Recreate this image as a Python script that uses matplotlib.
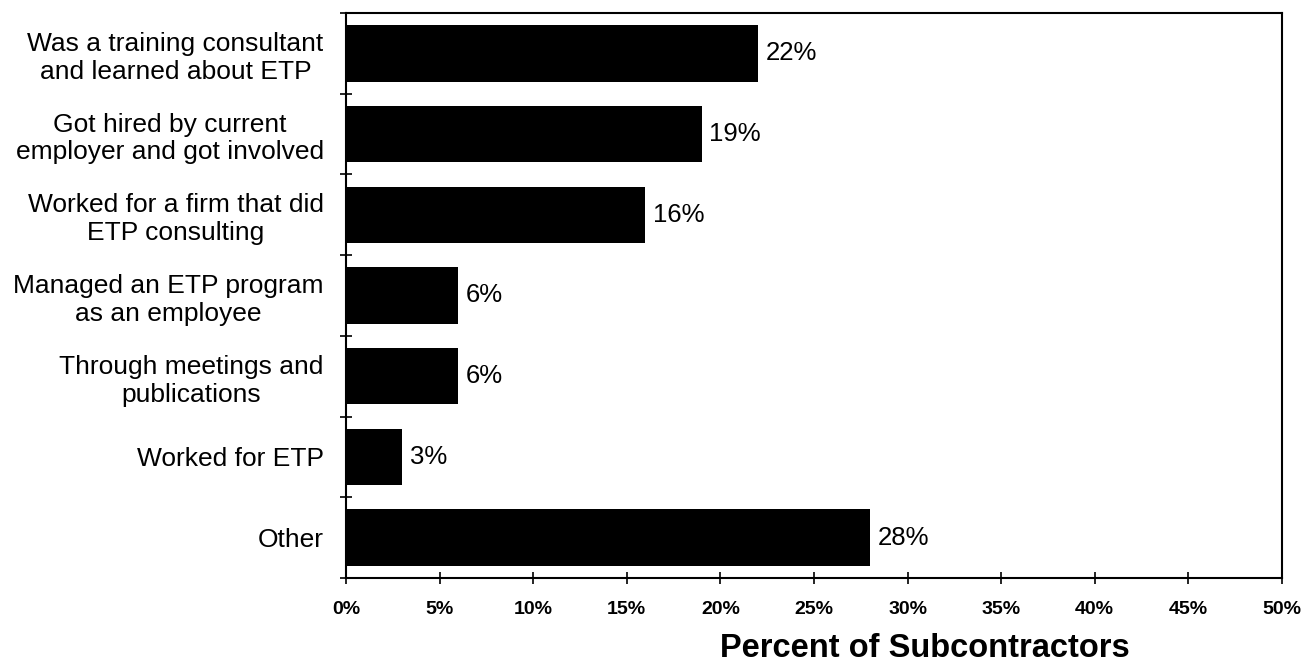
import matplotlib.pyplot as plt
from matplotlib.ticker import MultipleLocator, PercentFormatter

plt.rcParams['font.family'] = ['Liberation Sans', 'DejaVu Sans']

categories = [
    'Was a training consultant\nand learned about ETP',
    'Got hired by current\nemployer and got involved',
    'Worked for a firm that did\nETP consulting',
    'Managed an ETP program\nas an employee',
    'Through meetings and\npublications',
    'Worked for ETP',
    'Other',
]
values = [22, 19, 16, 6, 6, 3, 28]

fig = plt.figure(figsize=(13.02, 6.65), dpi=100)
ax = fig.add_axes([0.2657, 0.1308, 0.7189, 0.8497])

ypos = list(range(len(categories)))
ax.barh(ypos, values, height=0.7, color='black')

# value labels to the right of each bar
for y, v in zip(ypos, values):
    ax.text(v + 0.4, y, f'{v}%', va='center', ha='left', fontsize=18.5)

ax.set_xlim(0, 50)
ax.set_ylim(len(categories) - 0.5, -0.5)

ax.xaxis.set_major_locator(MultipleLocator(5))
ax.xaxis.set_major_formatter(PercentFormatter(decimals=0))
ax.tick_params(axis='x', direction='inout', length=9, width=1.2, pad=12,
               labelsize=14)
for lbl in ax.get_xticklabels():
    lbl.set_fontweight('bold')

ax.set_yticks(ypos)
ax.set_yticklabels(categories, fontsize=19, multialignment='center')
ax.tick_params(axis='y', which='major', length=0, pad=16)
ax.set_yticks([i - 0.5 for i in range(len(categories) + 1)], minor=True)
ax.tick_params(axis='y', which='minor', direction='inout', length=9, width=1.2)

for side in ['left', 'bottom', 'top', 'right']:
    ax.spines[side].set_linewidth(1.5)

# axis title sits right of the axes centre in the original
fig.text(925 / 1302, 8 / 665, 'Percent of Subcontractors', fontsize=23.5,
         fontweight='bold', ha='center', va='baseline')

fig.savefig('out.png', dpi=100)
